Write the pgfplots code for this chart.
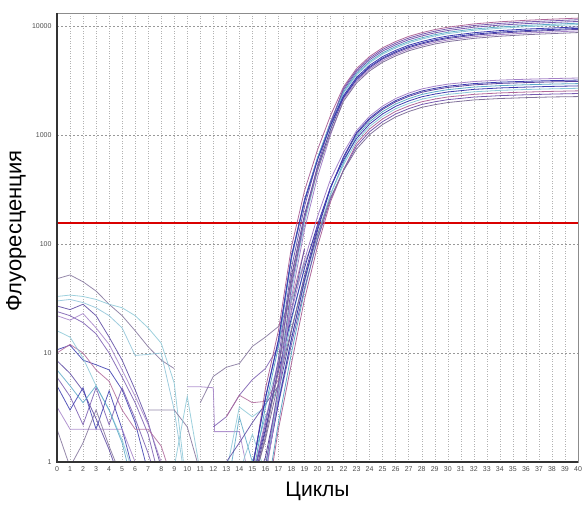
\documentclass[border=0pt]{standalone}
\usepackage{pgfplots}
\pgfplotsset{compat=1.18}
\usepackage{pgfplotstable}
\usepackage{fontspec}
\setmainfont{Liberation Sans}
\definecolor{ca}{RGB}{90,70,160}
\definecolor{cb}{RGB}{120,90,175}
\definecolor{cc}{RGB}{140,200,215}
\definecolor{cd}{RGB}{60,60,175}
\definecolor{ce}{RGB}{165,130,200}
\definecolor{cf}{RGB}{175,105,155}
\definecolor{cg}{RGB}{95,170,200}
\definecolor{ch}{RGB}{130,115,155}
\pgfplotstableread{
c   u1    u2    u3    u4    u5    u6    u7    u8    u9    u10
15  0.8   0.7   0.5   0.9   0.6   0.5   0.6   0.7   0.5   0.9
16  4.7   2.2   0.82  3.9   1.9   0.72  1.7   3.2   0.9   3.8
17  16    8.8   4.5   13.3  7.4   4.0   7.0   11.4  5.0   12.9
18  94    60    37    78    51    32    48    73    41    76
19  307   220   155   255   186   135   174   244   171   247
20  730   594   473   609   502   413   470   618   523   590
21  1510  1320  1150  1260  1120  1000  1040  1300  1270  1220
22  2770  2590  2420  2300  2190  2120  2040  2490  2680  2230
23  4070  3800  3550  3380  3210  3110  3000  3660  3930  3280
24  5250  4900  4580  4360  4140  4010  3870  4720  5070  4230
25  6310  5890  5510  5240  4980  4820  4650  5670  6100  5080
26  7200  6710  6280  5980  5670  5490  5310  6470  6950  5800
27  8020  7480  7000  6660  6320  6120  5920  7210  7750  6460
28  8670  8090  7570  7200  6840  6620  6390  7790  8380  6980
29  9260  8640  8090  7690  7300  7070  6830  8320  8950  7460
30  9740  9080  8500  8090  7670  7430  7180  8750  9410  7840
32  10440 9740  9120  8670  8230  7970  7700  9380  10090 8410
34  10920 10180 9530  9070  8600  8330  8050  9800  10550 8790
36  11270 10510 9840  9360  8880  8600  8310  10120 10890 9070
38  11540 10760 10070 9580  9100  8800  8510  10370 11150 9290
40  11800 11000 10300 9800  9300  9000  8700  10600 11400 9500
}\uppertab
\pgfplotstableread{
c   l1    l2    l3    l4    l5    l6    l7    l8    l9
15  0.7   0.55  0.4   0.7   0.5   0.4   0.45  0.6   0.45
16  2.4   1.1   0.42  2.0   0.95  0.36  0.85  1.6   0.8
17  8.0   4.4   2.3   6.8   3.8   2.0   3.4   5.4   3.5
18  24    16    10    21    13.5  8     12    16.5  13.5
19  71    51    37    60    44    31    39    48    46
20  178   140   111   150   122   95    109   121   133
21  392   332   285   332   286   244   257   266   324
22  694   617   560   589   533   479   477   471   634
23  1097  1023  977   930   884   837   791   744   1051
24  1487  1386  1323  1260  1197  1134  1071  1008  1424
25  1841  1716  1638  1560  1482  1404  1326  1248  1763
26  2159  2013  1922  1830  1739  1647  1556  1464  2068
27  2419  2255  2153  2050  1948  1845  1743  1640  2317
28  2643  2464  2352  2240  2128  2016  1904  1792  2531
29  2797  2607  2489  2370  2252  2133  2015  1896  2678
30  2926  2728  2604  2480  2356  2232  2108  1984  2802
32  3092  2882  2751  2620  2489  2358  2227  2096  2961
34  3186  2970  2835  2700  2565  2430  2295  2160  3051
36  3245  3025  2888  2750  2613  2475  2338  2200  3108
38  3292  3069  2930  2790  2651  2511  2372  2232  3153
40  3330  3100  2960  2820  2680  2540  2400  2250  3190
}\lowertab
\begin{document}
\begin{tikzpicture}
\begin{axis}[
  at={(0,0)}, anchor=south west,
  scale only axis, width=521pt, height=449pt,
  xmin=0, xmax=40, ymode=log, ymin=1, ymax=13150,
  xtick={0,1,...,40},
  ytick={1,10,100,1000,10000},
  yticklabels={1,10,100,1000,10000},
  minor ytick={},
  major tick length=0pt, minor tick length=0pt,
  /pgf/number format/assume math mode=true,
  tick label style={font=\fontsize{7}{8}\selectfont, text=black!70},
  xticklabel style={yshift=-1.5pt},
  yticklabel style={xshift=-2pt},
  xmajorgrids, ymajorgrids,
  x grid style={black!30, line width=0.4pt, dash pattern=on 1pt off 1.5pt},
  y grid style={black!40, line width=0.5pt, dash pattern=on 2pt off 2pt},
  axis line style={black!45, line width=0.5pt},
  xlabel={Циклы}, ylabel={Флуоресценция},
  every axis x label/.style={at={([yshift=-29pt]rel axis cs:0.5,0)}, anchor=center, font=\fontsize{21}{24}\selectfont},
  every axis y label/.style={at={([xshift=-41pt]rel axis cs:0,0.515)}, anchor=center, rotate=90, font=\fontsize{22}{25}\selectfont},
  every axis plot/.append style={line width=0.8pt},
]
% baseline noise
\begin{scope}[opacity=0.85]
\addplot[ch] coordinates {(0,48)(1,52)(2,45)(3,37)(4,28)(5,22)(6,16)(7,11.4)(8,8.6)(9,7.2)};
\addplot[cc] coordinates {(0,33)(1,34)(2,33)(3,31)(4,28)(5,26)(6,22)(7,17)(8,12.3)(9,5.3)(10,0.5)};
\addplot[cg!70] coordinates {(0,30)(1,31)(2,29)(3,26)(4,22)(5,17)(6,9.5)(7,9.7)(8,10)(9,3)(10,0.5)};
\addplot[ca] coordinates {(0,27)(1,25)(2,28)(3,22)(4,14)(5,8.6)(6,4.6)(7,2.3)(8,0.9)(9,0.5)};
\addplot[cb] coordinates {(0,24)(1,22)(2,19)(3,15)(4,10)(5,6)(6,3.5)(7,1.8)(8,0.6)};
\addplot[ce] coordinates {(0,22)(1,20)(2,23)(3,17)(4,12)(5,7)(6,4)(7,2.2)(8,1)(9,0.5)};
\addplot[cd] coordinates {(0,10.7)(1,11.8)(2,8.6)(3,7.8)(4,7)(5,4.6)(6,2.3)(7,0.8)};
\addplot[cf] coordinates {(0,10)(1,12)(2,10)(3,7)(4,5.5)(5,3)(6,2)(7,2)(8,1.4)(9,0.6)};
\addplot[cc] coordinates {(0,16)(1,14)(2,9)(3,5)(4,3)(5,1.6)(6,0.7)};
\addplot[ca] coordinates {(0,8.5)(1,6.5)(2,4.5)(3,2.5)(4,1.3)(5,0.6)};
\addplot[cb] coordinates {(0,6)(1,4)(2,2.2)(3,4.8)(4,2.2)(5,4.8)(6,2.5)(7,1.2)(8,0.5)};
\addplot[cd] coordinates {(0,5)(1,3)(2,4.8)(3,2)(4,4.5)(5,2)(6,0.7)};
\addplot[ce] coordinates {(0,3.2)(1,2)(2,2)(3,2)(4,2)(5,2)(6,1)};
\addplot[cg] coordinates {(0,7)(1,5)(2,3.5)(3,5)(4,3)(5,1.5)(6,0.5)};
\addplot[ch] coordinates {(0,2)(1,0.9)(2,1.5)(3,3)(4,1.4)(5,0.7)};
\addplot[ch] coordinates {(7,3)(8,3)(9,3)(10,2.1)(11,0.8)};
\addplot[cc] coordinates {(9,0.9)(10,4)(11,0.8)};
\addplot[ce] coordinates {(10,4.9)(11,4.9)(12,4.8)(12.1,1.9)(14,1.9)(15,0.5)};
\addplot[ch] coordinates {(11,3.5)(12,6.1)(13,7.4)(14,8.0)(15,11.5)(16,14)(17,17.5)(18,30)(19,65)(20,140)};
\addplot[cb] coordinates {(12,2.1)(13,2.6)(14,4.1)(15,5.7)(16,7.2)(17,11.4)(18,45)(19,150)};
\addplot[cf] coordinates {(13,2.6)(14,4.1)(15,3.5)(16,3.6)(17,5.7)(18,30)(19,90)};
\addplot[cc] coordinates {(13,0.8)(14,3.2)(15,2.6)(16,3.2)(17,8)(18,30)(19,70)};
\addplot[cg] coordinates {(13,0.5)(14,2.6)(15,1)(16,2.6)(17,5)(18,20)(19,60)};
\addplot[ca] coordinates {(13,1)(14,1.5)(15,2.3)(16,3.4)(17,5)(18,25)(19,90)};
\addplot[cc] coordinates {(14,0.8)(15,1.8)(16,0.8)};
\end{scope}
% threshold
\addplot[red!85!black, line width=1.5pt] coordinates {(0,155) (40,155)};
% lower group
\addplot[ce] table[x=c,y=l1] {\lowertab};
\addplot[ca] table[x=c,y=l2] {\lowertab};
\addplot[cg] table[x=c,y=l3] {\lowertab};
\addplot[cd] table[x=c,y=l4] {\lowertab};
\addplot[cc] table[x=c,y=l5] {\lowertab};
\addplot[cf] table[x=c,y=l6] {\lowertab};
\addplot[cb] table[x=c,y=l7] {\lowertab};
\addplot[ch] table[x=c,y=l8] {\lowertab};
\addplot[cd] table[x=c,y=l9] {\lowertab};
% upper group
\addplot[cf] table[x=c,y=u1] {\uppertab};
\addplot[cb] table[x=c,y=u2] {\uppertab};
\addplot[cc] table[x=c,y=u3] {\uppertab};
\addplot[cd] table[x=c,y=u4] {\uppertab};
\addplot[ca] table[x=c,y=u5] {\uppertab};
\addplot[ce] table[x=c,y=u6] {\uppertab};
\addplot[ch] table[x=c,y=u7] {\uppertab};
\addplot[cg] table[x=c,y=u8] {\uppertab};
\addplot[cb] table[x=c,y=u9] {\uppertab};
\addplot[cd] table[x=c,y=u10] {\uppertab};
\end{axis}
\draw[line width=1.8pt, black!80] (0,449pt) -- (0,0) -- (521pt,0);
\pgfresetboundingbox
\path (-57pt,-63pt) rectangle (526pt,462pt);
\end{tikzpicture}
\end{document}
